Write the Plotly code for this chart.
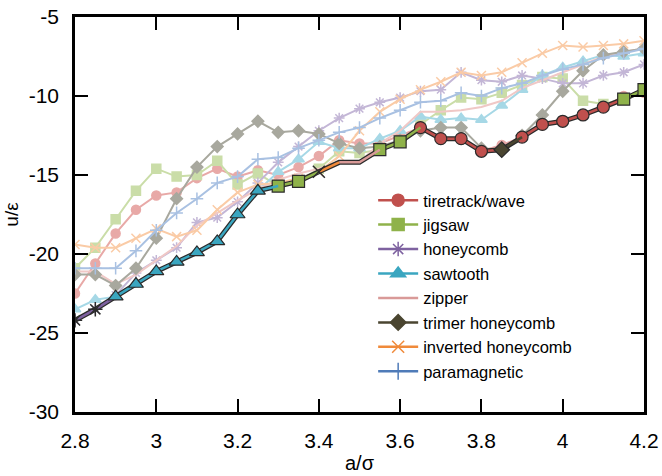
import plotly.graph_objects as go

x = [round(2.8 + 0.05 * i, 2) for i in range(29)]

tiretrack = [-22.5, -20.6, -18.7, -17.2, -16.3, -16.1, -15.2, -14.6, -15.1, -14.7, -15.0, -14.5, -13.8, -12.8, -13.0,
             -13.0, -12.5, -12.0, -12.7, -12.7, -13.5, -13.1, -12.6, -11.8, -11.6, -11.2, -10.7, -10.0, -9.8]
jigsaw = [-20.9, -19.6, -17.8, -16.0, -14.6, -15.1, -15.0, -14.1, -15.6, -14.9, -15.7, -15.4, -14.6, -13.5, -13.6,
          -13.4, -12.9, -11.8, -10.9, -10.1, -10.2, -9.8, -9.3, -8.8, -8.9, -10.3, -10.5, -10.2, -9.6]
honeycomb = [-24.2, -23.5, -22.6, -21.2, -20.4, -19.6, -18.0, -17.7, -16.7, -15.5, -14.2, -13.2, -12.2, -11.4, -10.8,
             -10.4, -10.1, -9.7, -9.6, -8.5, -9.0, -9.1, -8.7, -8.9, -9.2, -9.2, -8.7, -8.5, -8.0]
sawtooth = [-23.5, -22.9, -22.7, -21.9, -21.1, -20.5, -19.9, -19.2, -17.5, -16.0, -14.8, -14.0, -12.9, -13.3, -13.3,
            -12.7, -12.2, -11.3, -11.5, -11.4, -11.5, -10.6, -9.6, -8.7, -8.2, -7.8, -7.4, -7.5, -7.3]
zipper = [-21.1, -21.1, -21.9, -21.3, -20.4, -19.5, -18.2, -17.4, -16.6, -15.9, -15.3, -14.9, -14.6, -14.2, -14.2,
          -13.0, -12.2, -11.0, -11.0, -10.9, -10.7, -10.3, -9.5, -9.0, -8.5, -8.0, -7.5, -7.2, -7.0]
trimer = [-21.3, -21.3, -22.0, -20.9, -19.0, -16.5, -14.5, -13.2, -12.4, -11.6, -12.3, -12.2, -12.4, -13.0, -13.3,
          -13.2, -12.8, -12.2, -12.0, -12.0, -13.3, -13.4, -12.5, -11.2, -9.7, -8.4, -7.4, -7.2, -7.0]
inverted = [-19.4, -19.6, -19.6, -19.0, -18.4, -18.9, -18.5, -17.2, -16.1, -15.6, -15.5, -15.2, -14.8, -13.8, -12.2,
            -11.0, -10.2, -9.6, -9.1, -8.5, -8.7, -8.5, -7.9, -7.3, -6.8, -6.9, -6.8, -6.7, -6.5]
paramagnetic = [-20.9, -20.9, -20.9, -19.8, -18.5, -17.4, -16.5, -15.5, -15.1, -14.0, -13.9, -13.3, -12.8, -12.3, -12.0,
                -11.4, -10.9, -10.4, -10.3, -9.8, -10.0, -9.5, -9.2, -8.7, -8.3, -8.0, -7.6, -7.3, -7.0]

# which structure is lowest at each x (bold envelope)
lowest = (["honeycomb"] * 2 + ["sawtooth"] * 8 + ["jigsaw"] * 2 + ["inverted honeycomb"] +
          ["zipper"] * 2 + ["jigsaw"] * 2 + ["tiretrack/wave"] * 4 + ["trimer honeycomb"] +
          ["tiretrack/wave"] * 5 + ["jigsaw"] * 2)

x_ticks = [2.8, 3, 3.2, 3.4, 3.6, 3.8, 4, 4.2]
x_tick_labels = ["2.8", "3", "3.2", "3.4", "3.6", "3.8", "4", "4.2"]
y_ticks = [-30, -25, -20, -15, -10, -5]
y_tick_labels = ["-30", "-25", "-20", "-15", "-10", "-5"]

series = [
    ("tiretrack/wave", tiretrack, "#C0504D", "#E8A9A7", "circle", 10),
    ("jigsaw", jigsaw, "#8FB24A", "#CADDA8", "square", 10),
    ("honeycomb", honeycomb, "#7E62A0", "#C3B6D6", "asterisk-open", 10),
    ("sawtooth", sawtooth, "#3AA6C0", "#A6D8E6", "triangle-up", 11),
    ("zipper", zipper, "#D99A98", "#F0C8C6", None, 8),
    ("trimer honeycomb", trimer, "#4A4530", "#A8A89E", "diamond", 10),
    ("inverted honeycomb", inverted, "#F08A3A", "#FACBA6", "x-thin-open", 10),
    ("paramagnetic", paramagnetic, "#4F7BB8", "#A9C1E2", "cross-thin-open", 10),
]

fig = go.Figure()

# faded full curves
for name, ys, col, light, sym, sz in series:
    mode = "lines+markers" if sym else "lines"
    fig.add_trace(go.Scatter(
        x=x, y=ys, mode=mode, showlegend=False, hoverinfo="skip",
        line=dict(color=light, width=2),
        marker=dict(symbol=sym or "circle", size=max(sz - 1, 1), color=light,
                    line=dict(color=light, width=1.5)),
    ))

# bold envelope
data = {s[0]: s[1] for s in series}
env_y = [data[lowest[i]][i] for i in range(len(x))]
fig.add_trace(go.Scatter(x=x, y=env_y, mode="lines", showlegend=False, hoverinfo="skip",
                         line=dict(color="#2b2b2b", width=5)))
for name, ys, col, light, sym, sz in series:
    idx = [i for i in range(len(x)) if lowest[i] == name]
    if not idx:
        continue
    lx, ly = [], []
    prev = None
    for i in idx:
        if prev is not None and i != prev + 1:
            lx.append(None); ly.append(None)
        if prev is None or i != prev + 1:
            lx.append(x[i]); ly.append(env_y[i])
        j = min(i + 1, len(x) - 1)
        lx.append(x[j]); ly.append(env_y[j])
        prev = i
    fig.add_trace(go.Scatter(x=lx, y=ly, mode="lines", showlegend=False, hoverinfo="skip",
                             line=dict(color=col, width=2.5)))
    if sym:
        is_open = "open" in sym
        fig.add_trace(go.Scatter(
            x=[x[i] for i in idx], y=[env_y[i] for i in idx], mode="markers",
            showlegend=False, hoverinfo="skip",
            marker=dict(symbol=sym, size=sz + 2, color=col if not is_open else "#2b2b2b",
                        line=dict(color="#2b2b2b", width=1.2 if not is_open else 1.5)),
        ))

# legend entries
for name, ys, col, light, sym, sz in series:
    fig.add_trace(go.Scatter(
        x=[None], y=[None], name=name, mode="lines+markers" if sym else "lines",
        line=dict(color=col, width=2.5),
        marker=dict(symbol=sym or "circle", size=sz + 2, color=col,
                    line=dict(color=col, width=1.5)),
    ))

font = "Liberation Sans, Arial, sans-serif"
fig.update_layout(
    width=662, height=476,
    margin=dict(l=75, r=18, t=17, b=64),
    paper_bgcolor="white", plot_bgcolor="white",
    font=dict(family=font, size=21, color="black"),
    showlegend=True,
    legend=dict(x=0.524, y=0.58, xanchor="left", yanchor="top",
                bgcolor="rgba(0,0,0,0)", font=dict(size=16.5), tracegroupgap=0,
                itemwidth=40),
)
fig.update_xaxes(range=[2.8, 4.2], tickvals=x_ticks, ticktext=x_tick_labels,
                 ticks="inside", ticklen=13, tickwidth=2, tickcolor="black",
                 showline=True, linewidth=2.5, linecolor="black", mirror="ticks",
                 showgrid=False, zeroline=False, ticklabelstandoff=8, automargin=False,
                 tickfont=dict(size=21),
                 title=dict(text="a/σ", standoff=6, font=dict(size=20)))
fig.update_yaxes(range=[-30, -5], tickvals=y_ticks, ticktext=y_tick_labels,
                 ticks="inside", ticklen=13, tickwidth=2, tickcolor="black",
                 showline=True, linewidth=2.5, linecolor="black", mirror="ticks",
                 showgrid=False, zeroline=False, ticklabelstandoff=9, automargin=False,
                 tickfont=dict(size=21),
                 title=dict(text="u/ε", standoff=6, font=dict(size=19)))

fig.write_html("out.html")
